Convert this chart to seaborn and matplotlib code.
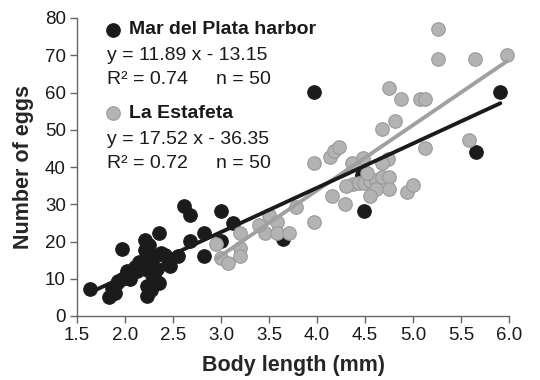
import numpy as np
import pandas as pd
import matplotlib
matplotlib.use("Agg")
import matplotlib.pyplot as plt
import seaborn as sns

# ---- data ----
mdp_x = [1.64, 1.83, 1.86, 1.90, 1.92, 1.93, 1.97, 1.97, 2.00, 2.05,
         2.10, 2.21, 2.21, 2.21, 2.21, 2.23, 2.23, 2.27, 2.30, 2.31,
         2.35, 2.35, 2.38, 2.42, 2.47, 2.55, 2.61, 2.68, 2.68, 2.82,
         2.82, 3.00, 3.00, 3.13, 3.65, 3.97, 4.47, 4.49, 5.66, 5.91,
         2.15, 2.25, 2.28, 2.12, 2.05, 2.33, 2.45, 2.02, 2.25, 2.18]
mdp_y = [7.3, 5.1, 7.6, 6.2, 8.9, 9.3, 18.0, 9.8, 10.4, 11.5,
         13.2, 20.3, 17.8, 15.1, 12.5, 8.0, 5.3, 7.1, 16.0, 9.8,
         22.3, 8.9, 16.9, 16.5, 13.4, 16.2, 29.4, 27.2, 20.1, 22.3,
         16.0, 28.1, 20.1, 25.1, 20.6, 60.1, 37.9, 28.2, 44.0, 60.1,
         14.5, 19.0, 11.0, 12.0, 10.0, 12.5, 14.0, 12.0, 17.0, 14.0]

est_x = [2.95, 3.00, 3.07, 3.20, 3.20, 3.20, 3.46, 3.50, 3.58, 3.58,
         3.71, 3.78, 3.97, 3.97, 4.14, 4.18, 4.23, 4.36, 4.48, 4.16,
         4.29, 4.37, 4.44, 4.49, 4.55, 4.61, 4.52, 4.61, 4.55, 4.74,
         4.68, 4.68, 4.75, 4.75, 4.94, 5.00, 4.68, 4.81, 4.75, 4.87,
         5.07, 5.13, 5.13, 5.58, 5.26, 5.26, 5.65, 5.98, 3.40, 4.30]
est_y = [19.2, 15.5, 14.3, 22.3, 18.3, 16.0, 22.3, 27.2, 25.2, 22.3,
         22.3, 29.3, 25.2, 41.2, 42.8, 44.3, 45.4, 41.2, 42.3, 32.1,
         30.2, 35.5, 35.7, 35.7, 36.3, 36.6, 38.5, 34.2, 32.1, 42.1,
         41.1, 37.3, 37.3, 34.1, 33.2, 35.3, 50.2, 52.4, 61.2, 58.2,
         58.2, 58.2, 45.1, 47.3, 77.1, 69.1, 69.1, 70.1, 24.5, 35.0]

sites = ["Mar del Plata harbor", "La Estafeta"]
slopes = [11.89, 17.52]
intercepts = [-13.15, -36.35]
r2 = [0.74, 0.72]
n_obs = [50, 50]

x_ticks = [1.5, 2.0, 2.5, 3.0, 3.5, 4.0, 4.5, 5.0, 5.5, 6.0]
y_ticks = [0, 10, 20, 30, 40, 50, 60, 70, 80]

df = pd.concat([
    pd.DataFrame({"x": mdp_x, "y": mdp_y, "site": sites[0]}),
    pd.DataFrame({"x": est_x, "y": est_y, "site": sites[1]}),
])

# ---- style ----
sns.set_theme(style="ticks")
plt.rcParams["font.family"] = ["Liberation Sans", "DejaVu Sans"]

fill = {sites[0]: "#1b1b1b", sites[1]: "#b3b3b3"}
edge = {sites[0]: "#1b1b1b", sites[1]: "#999999"}
line_col = {sites[0]: "#1b1b1b", sites[1]: "#a0a0a0"}
PT_S = 95

fig = plt.figure(figsize=(5.4, 3.8), dpi=100)
W, H = 540, 380
L, R, T, B = 77, 509, 18, 316
ax = fig.add_axes([L / W, 1 - B / H, (R - L) / W, (B - T) / H])

for s in sites:
    sub = df[df.site == s]
    sns.scatterplot(data=sub, x="x", y="y", ax=ax, s=PT_S, color=fill[s],
                    edgecolor=edge[s], linewidth=0.8, legend=False, zorder=3,
                    clip_on=False)

for s in [sites[1], sites[0]]:
    i = sites.index(s)
    sub = df[df.site == s]
    xs = np.array([sub.x.min(), sub.x.max()])
    ys = slopes[i] * xs + intercepts[i]
    sns.lineplot(x=xs, y=ys, ax=ax, color=line_col[s], linewidth=2.8,
                 zorder=4, solid_capstyle="round")

ax.set_xlim(1.5, 6.0)
ax.set_ylim(0, 80)
ax.set_xticks(x_ticks)
ax.set_xticklabels([f"{v:.1f}" for v in x_ticks])
ax.set_yticks(y_ticks)
ax.tick_params(axis="both", labelsize=13.5, length=5, width=1, color="#666666",
               direction="out", pad=3, labelcolor="#1a1a1a")
for sp in ["top", "right"]:
    ax.spines[sp].set_visible(False)
for sp in ["left", "bottom"]:
    ax.spines[sp].set_color("#666666")
    ax.spines[sp].set_linewidth(1)
ax.set_xlabel("Body length (mm)", fontsize=15.5, fontweight="bold", labelpad=8)
ax.set_ylabel("Number of eggs", fontsize=15.5, fontweight="bold", labelpad=8)

# ---- legend / equations ----
def ax_xy(px, py):
    return (px - L) / (R - L), (B - py) / (B - T)

blocks = [(30, 56, 80), (113, 140, 164)]
for i, s in enumerate(sites):
    yh, ye, yr = blocks[i]
    mx, my = ax_xy(113, yh)
    ax.scatter([mx], [my], s=PT_S, color=fill[s], edgecolor=edge[s],
               linewidth=0.8, transform=ax.transAxes, clip_on=False, zorder=5)
    tx, ty = ax_xy(129, yh)
    ax.text(tx, ty, s, transform=ax.transAxes, fontsize=14, fontweight="bold",
            va="center", ha="left", color="#1a1a1a")
    ex, ey = ax_xy(107, ye)
    ax.text(ex, ey, f"y = {slopes[i]:.2f} x - {abs(intercepts[i]):.2f}",
            transform=ax.transAxes, fontsize=14, va="center", ha="left",
            color="#1a1a1a")
    rx, ry = ax_xy(107, yr)
    ax.text(rx, ry, f"R² = {r2[i]:.2f}", transform=ax.transAxes, fontsize=14,
            va="center", ha="left", color="#1a1a1a")
    nx, ny = ax_xy(216, yr)
    ax.text(nx, ny, f"n = {n_obs[i]}", transform=ax.transAxes, fontsize=14,
            va="center", ha="left", color="#1a1a1a")

fig.savefig("out.png", dpi=100)
